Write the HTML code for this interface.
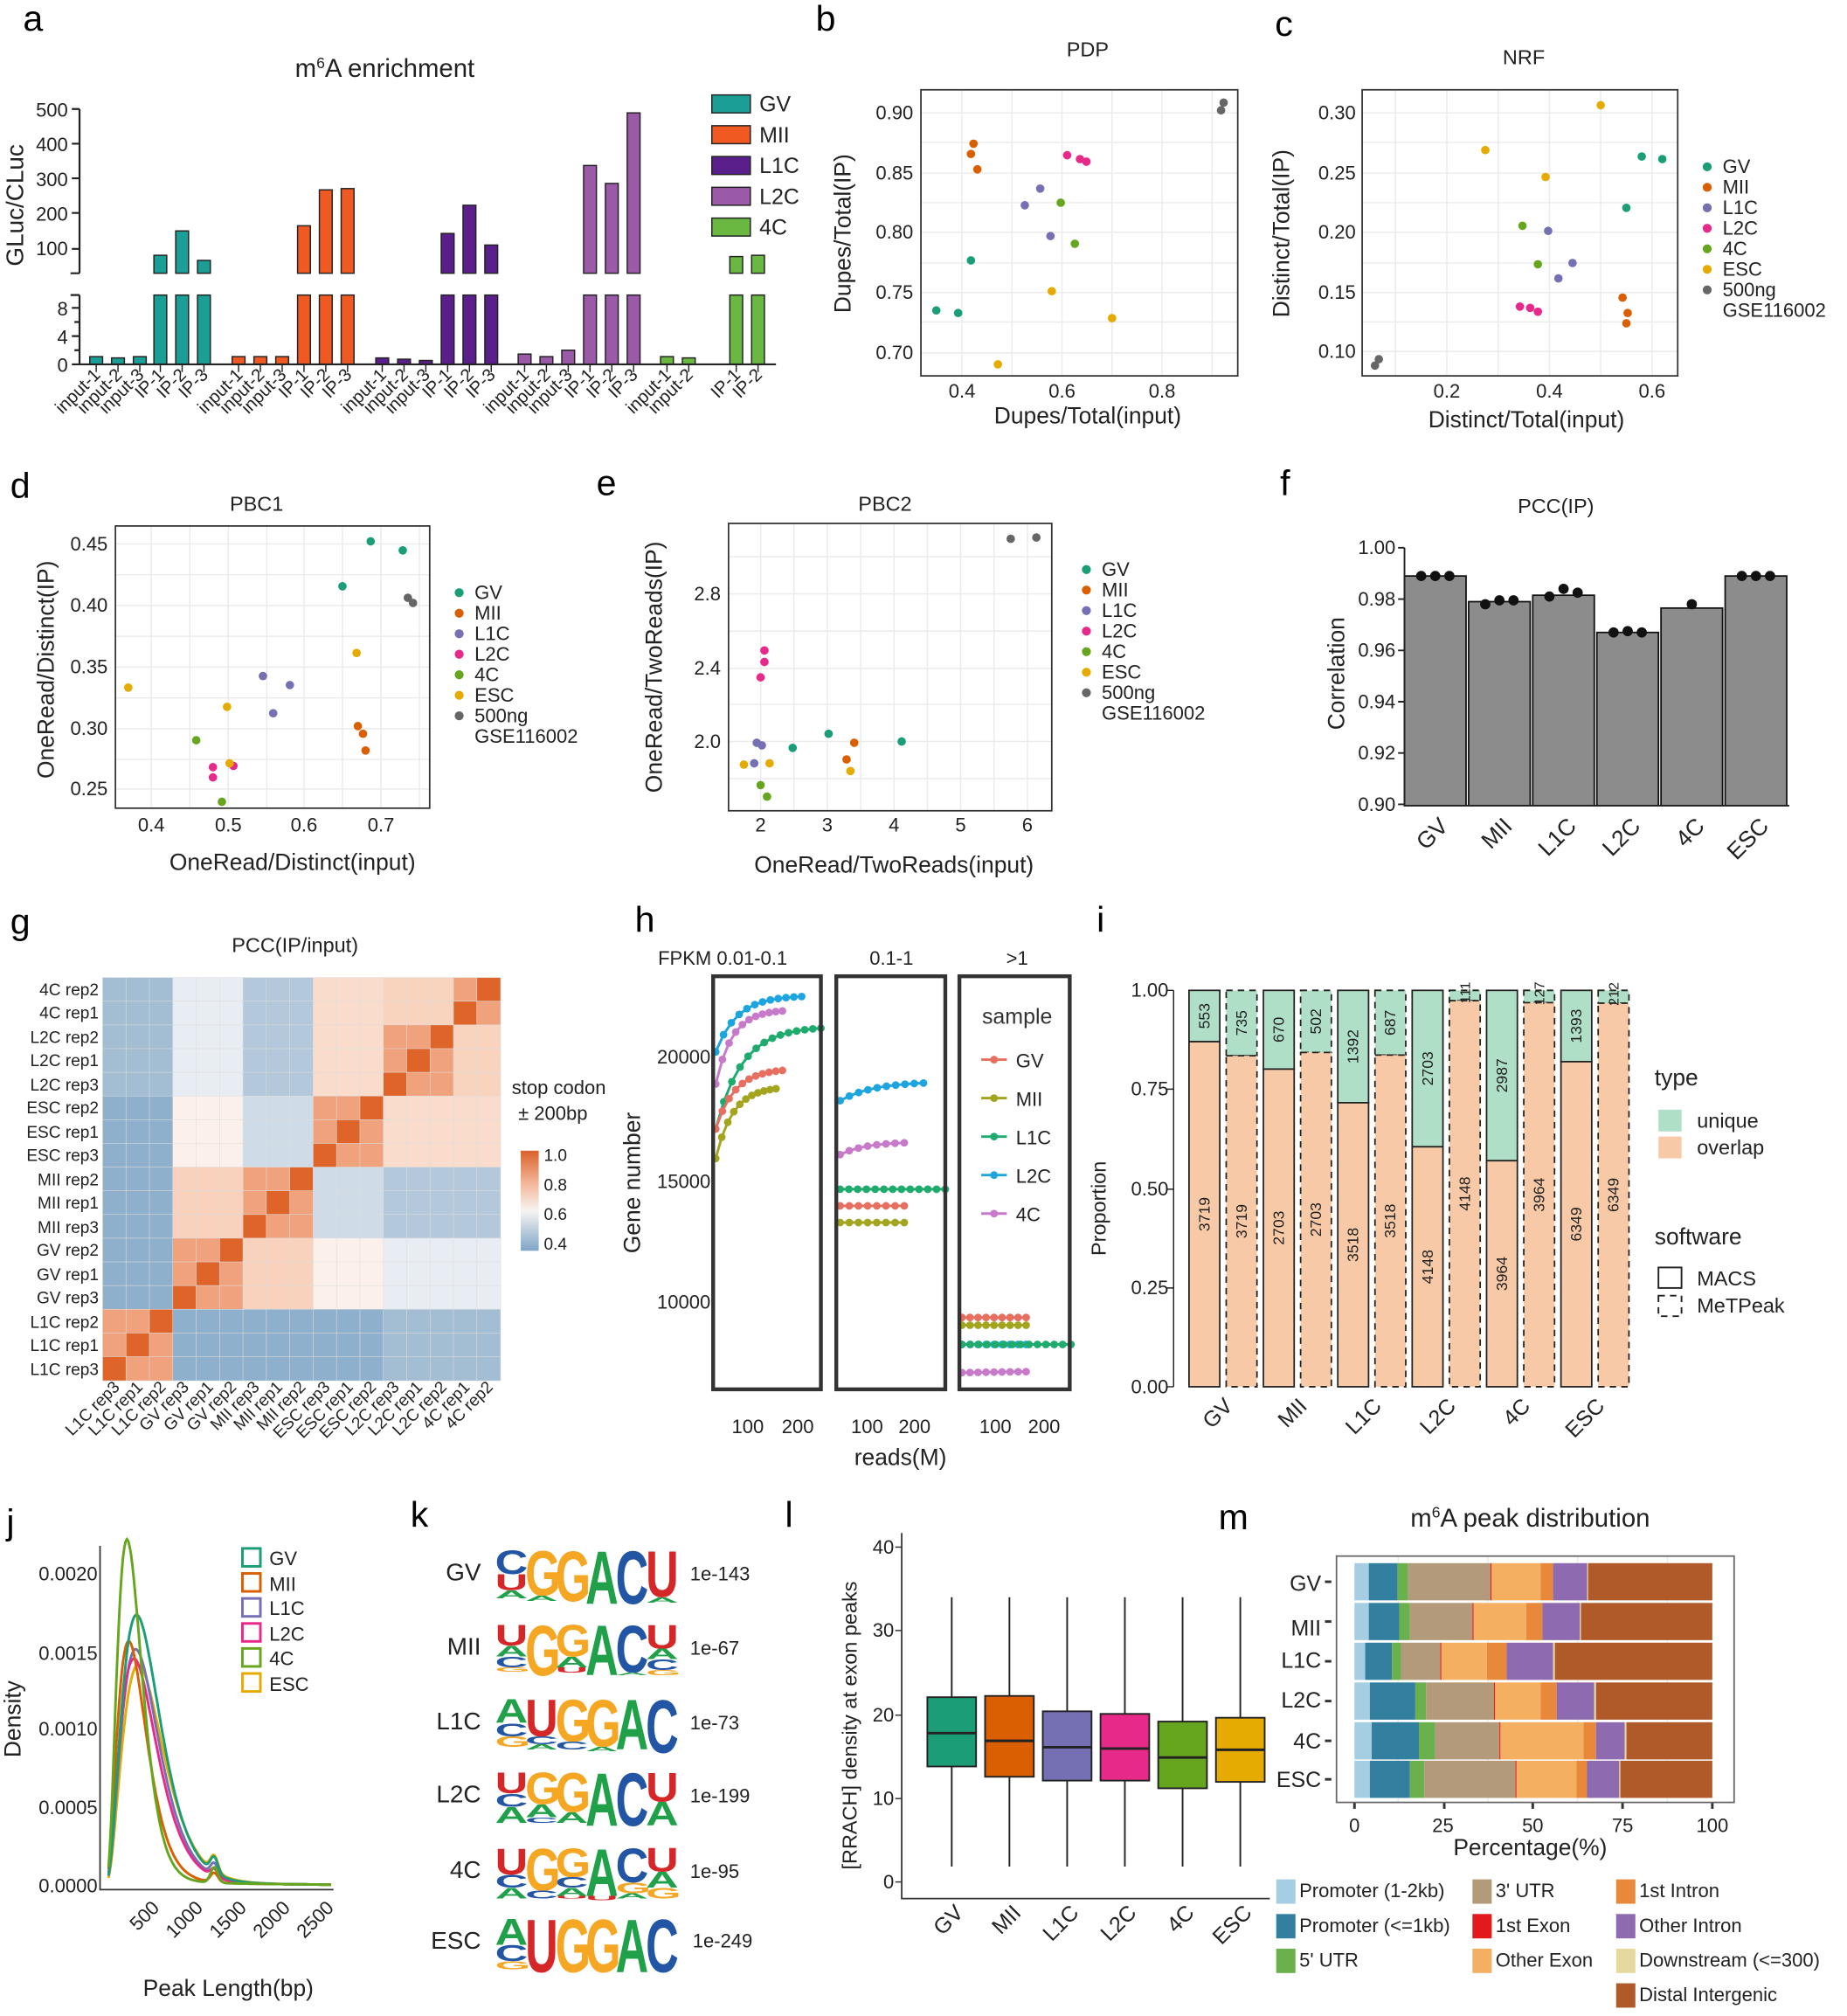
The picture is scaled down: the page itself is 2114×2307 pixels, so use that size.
<!DOCTYPE html>
<html><head><meta charset="utf-8"><style>
html,body{margin:0;padding:0;background:#fff}
svg{display:block}
text{font-family:"Liberation Sans",Arial,sans-serif;fill:#222}
.t{font-size:15px;fill:#444}
.ax{font-size:18px;fill:#222}
.ttl{font-size:16px}
.lt{font-size:28px;fill:#000}
.lg{font-size:15px}
.g{stroke:#ebebeb;stroke-width:1}
.bx{fill:none;stroke:#333;stroke-width:1.2}
</style></head><body>
<svg id="s" width="2114" height="2307" viewBox="0 0 1440 1571.5" preserveAspectRatio="none" xmlns="http://www.w3.org/2000/svg">
<rect width="1440" height="1572" fill="#fff"/>
<text class="lt" x="18" y="24">a</text><text class="lt" x="636" y="24">b</text><text class="lt" x="994" y="28">c</text>
<text class="lt" x="8" y="388">d</text><text class="lt" x="465" y="386">e</text><text class="lt" x="998" y="386">f</text>
<text class="lt" x="8" y="728">g</text><text class="lt" x="495" y="726">h</text><text class="lt" x="855" y="726">i</text>
<text class="lt" x="5" y="1196">j</text><text class="lt" x="320" y="1190">k</text><text class="lt" x="612" y="1190">l</text><text class="lt" x="950" y="1192">m</text>

<!-- ===== a ===== -->
<text x="300" y="60" text-anchor="middle" style="font-size:20px">m<tspan dy="-7" style="font-size:12px">6</tspan><tspan dy="7">A enrichment</tspan></text>
<text class="ax" transform="translate(18,160) rotate(-90)" text-anchor="middle" style="font-size:19px">GLuc/CLuc</text>
<g id="pa"></g>
<g stroke="#222" stroke-width="1.5" fill="none">
<path d="M62,85V213M55,213H62M62,230V284H605M55,230H62"/>
<path d="M56,85H62M56,112H62M56,139H62M56,166H62M56,194H62M56,240H62M56,262H62M56,284H62M58,251H62M58,273H62"/>
</g>
<g class="t" text-anchor="end" style="font-size:15px;fill:#222">
<text x="53" y="91">500</text><text x="53" y="118">400</text><text x="53" y="145">300</text><text x="53" y="172">200</text><text x="53" y="199">100</text>
<text x="53" y="246">8</text><text x="53" y="268">4</text><text x="53" y="290">0</text></g>
<g style="font-size:14px" text-anchor="end">
<text transform="translate(79,293) rotate(-45)">input-1</text><text transform="translate(96,293) rotate(-45)">input-2</text><text transform="translate(113,293) rotate(-45)">input-3</text><text transform="translate(129,293) rotate(-45)">IP-1</text><text transform="translate(146,293) rotate(-45)">IP-2</text><text transform="translate(163,293) rotate(-45)">IP-3</text>
<text transform="translate(190,293) rotate(-45)">input-1</text><text transform="translate(207,293) rotate(-45)">input-2</text><text transform="translate(224,293) rotate(-45)">input-3</text><text transform="translate(241,293) rotate(-45)">IP-1</text><text transform="translate(258,293) rotate(-45)">IP-2</text><text transform="translate(275,293) rotate(-45)">IP-3</text>
<text transform="translate(302,293) rotate(-45)">input-1</text><text transform="translate(319,293) rotate(-45)">input-2</text><text transform="translate(336,293) rotate(-45)">input-3</text><text transform="translate(353,293) rotate(-45)">IP-1</text><text transform="translate(370,293) rotate(-45)">IP-2</text><text transform="translate(387,293) rotate(-45)">IP-3</text>
<text transform="translate(413,293) rotate(-45)">input-1</text><text transform="translate(430,293) rotate(-45)">input-2</text><text transform="translate(447,293) rotate(-45)">input-3</text><text transform="translate(464,293) rotate(-45)">IP-1</text><text transform="translate(481,293) rotate(-45)">IP-2</text><text transform="translate(498,293) rotate(-45)">IP-3</text>
<text transform="translate(524,293) rotate(-45)">input-1</text><text transform="translate(541,293) rotate(-45)">input-2</text><text transform="translate(578,293) rotate(-45)">IP-1</text><text transform="translate(595,293) rotate(-45)">IP-2</text></g>
<g class="lg" style="font-size:17px">
<rect x="555" y="74" width="30" height="14" fill="#1a9e96" stroke="#222"/><text x="592" y="87">GV</text>
<rect x="555" y="98" width="30" height="14" fill="#f05a22" stroke="#222"/><text x="592" y="111">MII</text>
<rect x="555" y="122" width="30" height="14" fill="#5b1f8c" stroke="#222"/><text x="592" y="135">L1C</text>
<rect x="555" y="146" width="30" height="14" fill="#9b5aa8" stroke="#222"/><text x="592" y="159">L2C</text>
<rect x="555" y="170" width="30" height="14" fill="#6ab842" stroke="#222"/><text x="592" y="183">4C</text></g>

<!-- ===== b ===== -->
<text class="ttl" x="848" y="44" text-anchor="middle">PDP</text>
<g id="pb"></g>
<rect class="bx" x="718" y="70" width="247" height="223"/>
<g class="t" text-anchor="end"><text x="712" y="93">0.90</text><text x="712" y="140">0.85</text><text x="712" y="186">0.80</text><text x="712" y="233">0.75</text><text x="712" y="280">0.70</text></g>
<g class="t" text-anchor="middle"><text x="750" y="310">0.4</text><text x="828" y="310">0.6</text><text x="906" y="310">0.8</text></g>
<text class="ax" x="848" y="330" text-anchor="middle">Dupes/Total(input)</text>
<text class="ax" transform="translate(663,182) rotate(-90)" text-anchor="middle">Dupes/Total(IP)</text>

<!-- ===== c ===== -->
<text class="ttl" x="1188" y="50" text-anchor="middle">NRF</text>
<g id="pc"></g>
<rect class="bx" x="1062" y="70" width="246" height="223"/>
<g class="t" text-anchor="end"><text x="1057" y="93">0.30</text><text x="1057" y="140">0.25</text><text x="1057" y="186">0.20</text><text x="1057" y="233">0.15</text><text x="1057" y="279">0.10</text></g>
<g class="t" text-anchor="middle"><text x="1128" y="310">0.2</text><text x="1208" y="310">0.4</text><text x="1288" y="310">0.6</text></g>
<text class="ax" x="1190" y="333" text-anchor="middle">Distinct/Total(input)</text>
<text class="ax" transform="translate(1005,182) rotate(-90)" text-anchor="middle">Distinct/Total(IP)</text>
<g class="lg" id="lc"></g>

<!-- ===== d ===== -->
<text class="ttl" x="200" y="398" text-anchor="middle">PBC1</text>
<g id="pd"></g>
<rect class="bx" x="90" y="410" width="245" height="220"/>
<g class="t" text-anchor="end"><text x="84" y="429">0.45</text><text x="84" y="477">0.40</text><text x="84" y="525">0.35</text><text x="84" y="573">0.30</text><text x="84" y="620">0.25</text></g>
<g class="t" text-anchor="middle"><text x="118" y="648">0.4</text><text x="178" y="648">0.5</text><text x="237" y="648">0.6</text><text x="297" y="648">0.7</text></g>
<text class="ax" x="228" y="678" text-anchor="middle">OneRead/Distinct(input)</text>
<text class="ax" transform="translate(42,522) rotate(-90)" text-anchor="middle">OneRead/Distinct(IP)</text>

<!-- ===== e ===== -->
<text class="ttl" x="690" y="398" text-anchor="middle">PBC2</text>
<g id="pe"></g>
<rect class="bx" x="568" y="408" width="252" height="224"/>
<g class="t" text-anchor="end"><text x="562" y="468">2.8</text><text x="562" y="526">2.4</text><text x="562" y="583">2.0</text></g>
<g class="t" text-anchor="middle"><text x="593" y="648">2</text><text x="645" y="648">3</text><text x="697" y="648">4</text><text x="749" y="648">5</text><text x="801" y="648">6</text></g>
<text class="ax" x="697" y="680" text-anchor="middle">OneRead/TwoReads(input)</text>
<text class="ax" transform="translate(516,520) rotate(-90)" text-anchor="middle">OneRead/TwoReads(IP)</text>

<!-- ===== f ===== -->
<text class="ttl" x="1213" y="400" text-anchor="middle">PCC(IP)</text>
<g id="pf"></g>
<g class="t" text-anchor="end" style="fill:#222"><text x="1088" y="432">1.00</text><text x="1088" y="472">0.98</text><text x="1088" y="512">0.96</text><text x="1088" y="552">0.94</text><text x="1088" y="592">0.92</text><text x="1088" y="632">0.90</text></g>
<text class="ax" transform="translate(1048,525) rotate(-90)" text-anchor="middle">Correlation</text>
<g class="ax" text-anchor="end" style="font-size:18px">
<text transform="translate(1130,645) rotate(-45)">GV</text><text transform="translate(1180,645) rotate(-45)">MII</text><text transform="translate(1230,645) rotate(-45)">L1C</text><text transform="translate(1280,645) rotate(-45)">L2C</text><text transform="translate(1330,645) rotate(-45)">4C</text><text transform="translate(1380,645) rotate(-45)">ESC</text></g>

<!-- ===== g ===== -->
<text class="ttl" x="230" y="742" text-anchor="middle">PCC(IP/input)</text>
<g id="pg"></g>
<g style="font-size:13px" text-anchor="end" id="gl">
<text x="77" y="776">4C rep2</text><text x="77" y="794">4C rep1</text><text x="77" y="813">L2C rep2</text><text x="77" y="831">L2C rep1</text><text x="77" y="850">L2C rep3</text><text x="77" y="868">ESC rep2</text><text x="77" y="887">ESC rep1</text><text x="77" y="905">ESC rep3</text><text x="77" y="924">MII rep2</text><text x="77" y="942">MII rep1</text><text x="77" y="961">MII rep3</text><text x="77" y="979">GV rep2</text><text x="77" y="998">GV rep1</text><text x="77" y="1016">GV rep3</text><text x="77" y="1035">L1C rep2</text><text x="77" y="1053">L1C rep1</text><text x="77" y="1072">L1C rep3</text></g>
<g style="font-size:13px" text-anchor="end">
<text transform="translate(94,1082) rotate(-45)">L1C rep3</text><text transform="translate(112,1082) rotate(-45)">L1C rep1</text><text transform="translate(130,1082) rotate(-45)">L1C rep2</text><text transform="translate(148,1082) rotate(-45)">GV rep3</text><text transform="translate(167,1082) rotate(-45)">GV rep1</text><text transform="translate(185,1082) rotate(-45)">GV rep2</text><text transform="translate(203,1082) rotate(-45)">MII rep3</text><text transform="translate(221,1082) rotate(-45)">MII rep1</text><text transform="translate(239,1082) rotate(-45)">MII rep2</text><text transform="translate(258,1082) rotate(-45)">ESC rep3</text><text transform="translate(276,1082) rotate(-45)">ESC rep1</text><text transform="translate(294,1082) rotate(-45)">ESC rep2</text><text transform="translate(312,1082) rotate(-45)">L2C rep3</text><text transform="translate(330,1082) rotate(-45)">L2C rep1</text><text transform="translate(349,1082) rotate(-45)">L2C rep2</text><text transform="translate(367,1082) rotate(-45)">4C rep1</text><text transform="translate(385,1082) rotate(-45)">4C rep2</text></g>
<text x="399" y="853" style="font-size:15px">stop codon</text><text x="404" y="873" style="font-size:15px">± 200bp</text>
<defs><linearGradient id="cb" x1="0" y1="0" x2="0" y2="1"><stop offset="0" stop-color="#d9622a"/><stop offset=".33" stop-color="#f4b79a"/><stop offset=".6" stop-color="#f7f4f2"/><stop offset="1" stop-color="#7ea5c7"/></linearGradient></defs>
<rect x="406" y="897" width="14" height="78" fill="url(#cb)"/>
<g style="font-size:13px"><text x="424" y="905">1.0</text><text x="424" y="928">0.8</text><text x="424" y="951">0.6</text><text x="424" y="974">0.4</text></g>

<!-- ===== h ===== -->
<g style="font-size:15px"><text x="513" y="752">FPKM  0.01-0.1</text><text x="695" y="752" text-anchor="middle">0.1-1</text><text x="793" y="752" text-anchor="middle">&gt;1</text></g>
<g id="ph"></g>
<g fill="none" stroke="#333" stroke-width="3"><rect x="556" y="761" width="84" height="322"/><rect x="652" y="761" width="85" height="322"/><rect x="748" y="761" width="86" height="322"/></g>
<g class="t" text-anchor="end"><text x="554" y="829">20000</text><text x="554" y="926">15000</text><text x="554" y="1020">10000</text></g>
<g class="t" text-anchor="middle"><text x="583" y="1117">100</text><text x="622" y="1117">200</text><text x="676" y="1117">100</text><text x="713" y="1117">200</text><text x="776" y="1117">100</text><text x="814" y="1117">200</text></g>
<text class="ax" x="702" y="1142" text-anchor="middle">reads(M)</text>
<text class="ax" transform="translate(499,922) rotate(-90)" text-anchor="middle">Gene number</text>
<text x="793" y="798" text-anchor="middle" style="font-size:17px;fill:#333">sample</text>
<g class="lg" id="lh"><text x="792" y="832">GV</text><text x="792" y="862">MII</text><text x="792" y="892">L1C</text><text x="792" y="922">L2C</text><text x="792" y="952">4C</text></g>

<!-- ===== i ===== -->
<g id="pi"></g>
<g class="t" text-anchor="end"><text x="911" y="777">1.00</text><text x="911" y="854">0.75</text><text x="911" y="932">0.50</text><text x="911" y="1009">0.25</text><text x="911" y="1086">0.00</text></g>
<text class="ax" transform="translate(862,942) rotate(-90)" text-anchor="middle" style="font-size:16px">Proportion</text>
<g class="ax" text-anchor="end" style="font-size:17px;fill:#444"><text transform="translate(962,1097) rotate(-45)">GV</text><text transform="translate(1020,1097) rotate(-45)">MII</text><text transform="translate(1078,1097) rotate(-45)">L1C</text><text transform="translate(1136,1097) rotate(-45)">L2C</text><text transform="translate(1194,1097) rotate(-45)">4C</text><text transform="translate(1252,1097) rotate(-45)">ESC</text></g>
<g style="font-size:18px"><text x="1290" y="846">type</text><text x="1290" y="970">software</text></g>
<rect x="1293" y="865" width="18" height="17" fill="#b0dfc8"/><rect x="1293" y="886" width="18" height="17" fill="#f8c9a6"/>
<rect x="1293" y="988" width="18" height="16" fill="none" stroke="#222" stroke-width="1.3"/><rect x="1293" y="1010" width="18" height="16" fill="none" stroke="#222" stroke-width="1.3" stroke-dasharray="5,4"/>
<g class="lg" style="font-size:16px"><text x="1323" y="879">unique</text><text x="1323" y="900">overlap</text><text x="1323" y="1002">MACS</text><text x="1323" y="1023">MeTPeak</text></g>

<!-- ===== j ===== -->
<g id="pj"></g>
<g stroke="#333" stroke-width="1.2" fill="none"><path d="M78,1205V1473H260"/></g>
<g class="t" text-anchor="end"><text x="76" y="1232">0.0020</text><text x="76" y="1294">0.0015</text><text x="76" y="1353">0.0010</text><text x="76" y="1414">0.0005</text><text x="76" y="1475">0.0000</text></g>
<g class="t" text-anchor="end"><text transform="translate(125,1488) rotate(-45)">500</text><text transform="translate(159,1488) rotate(-45)">1000</text><text transform="translate(193,1488) rotate(-45)">1500</text><text transform="translate(227,1488) rotate(-45)">2000</text><text transform="translate(261,1488) rotate(-45)">2500</text></g>
<text class="ax" x="178" y="1556" text-anchor="middle">Peak Length(bp)</text>
<text class="ax" transform="translate(16,1340) rotate(-90)" text-anchor="middle">Density</text>
<g id="lj" class="lg"><text x="210" y="1220">GV</text><text x="210" y="1240">MII</text><text x="210" y="1259">L1C</text><text x="210" y="1279">L2C</text><text x="210" y="1298">4C</text><text x="210" y="1318">ESC</text></g>

<!-- ===== k ===== -->
<g id="pk"></g>
<g style="font-size:19px" text-anchor="end"><text x="375" y="1232">GV</text><text x="375" y="1290">MII</text><text x="375" y="1348">L1C</text><text x="375" y="1405">L2C</text><text x="375" y="1464">4C</text><text x="375" y="1519">ESC</text></g>
<g style="font-size:15px"><text x="538" y="1232">1e-143</text><text x="538" y="1290">1e-67</text><text x="538" y="1348">1e-73</text><text x="538" y="1405">1e-199</text><text x="538" y="1464">1e-95</text><text x="540" y="1518">1e-249</text></g>

<!-- ===== l ===== -->
<g id="pl"></g>
<g stroke="#333" stroke-width="1.2" fill="none"><path d="M703,1195V1480H990"/></g>
<g class="t" text-anchor="end"><text x="697" y="1211">40</text><text x="697" y="1276">30</text><text x="697" y="1342">20</text><text x="697" y="1407">10</text><text x="697" y="1472">0</text></g>
<g class="ax" text-anchor="end" style="font-size:17px"><text transform="translate(752,1492) rotate(-45)">GV</text><text transform="translate(797,1492) rotate(-45)">MII</text><text transform="translate(842,1492) rotate(-45)">L1C</text><text transform="translate(887,1492) rotate(-45)">L2C</text><text transform="translate(932,1492) rotate(-45)">4C</text><text transform="translate(977,1492) rotate(-45)">ESC</text></g>
<text class="ax" transform="translate(668,1345) rotate(-90)" text-anchor="middle" style="font-size:16px">[RRACH] density at exon peaks</text>

<!-- ===== m ===== -->
<text x="1193" y="1190" text-anchor="middle" style="font-size:20px">m<tspan dy="-7" style="font-size:12px">6</tspan><tspan dy="7">A peak distribution</tspan></text>
<g id="pm"></g>
<rect class="bx" x="1042" y="1213" width="310" height="192" style="stroke:#666"/>
<g class="ax" text-anchor="end" style="font-size:17px"><text x="1030" y="1240">GV</text><text x="1030" y="1275">MII</text><text x="1030" y="1300">L1C</text><text x="1030" y="1331">L2C</text><text x="1030" y="1363">4C</text><text x="1030" y="1393">ESC</text></g>
<g class="t" text-anchor="middle" style="fill:#222"><text x="1056" y="1428">0</text><text x="1125" y="1428">25</text><text x="1195" y="1428">50</text><text x="1265" y="1428">75</text><text x="1335" y="1428">100</text></g>
<text class="ax" x="1193" y="1446" text-anchor="middle">Percentage(%)</text>
<g id="lm" class="lg"><text x="1013" y="1479">Promoter (1-2kb)</text><text x="1013" y="1506">Promoter (&lt;=1kb)</text><text x="1013" y="1533">5' UTR</text><text x="1166" y="1479">3' UTR</text><text x="1166" y="1506">1st Exon</text><text x="1166" y="1533">Other Exon</text><text x="1278" y="1479">1st Intron</text><text x="1278" y="1506">Other Intron</text><text x="1278" y="1533">Downstream (&lt;=300)</text><text x="1278" y="1560">Distal Intergenic</text></g>
</svg>
<script>
const NS="http://www.w3.org/2000/svg";
function E(p,t,a){const e=document.createElementNS(NS,t);for(const k in a)e.setAttribute(k,a[k]);document.getElementById(p).appendChild(e);return e;}
const ca=["#1a9e96","#f05a22","#5b1f8c","#9b5aa8","#6ab842"];
const A=[[75,278],[92,279],[109,278],[125,199],[142,180],[159,203],[186,278],[203,278],[220,278],[237,176],[254,148],[271,147],[298,279],[315,280],[332,281],[349,182],[366,160],[383,191],[409,276],[426,278],[443,273],[460,129],[477,143],[494,88],[520,278],[537,279],[574,200],[591,199]];
const gi=[0,0,0,0,0,0,1,1,1,1,1,1,2,2,2,2,2,2,3,3,3,3,3,3,4,4,4,4];
A.forEach((b,i)=>{const c=ca[gi[i]];
 if(b[1]<213){E("pa","rect",{x:b[0]-5,y:b[1],width:10,height:213-b[1],fill:c,stroke:"#222","stroke-width":1});E("pa","rect",{x:b[0]-5,y:230,width:10,height:54,fill:c,stroke:"#222","stroke-width":1});}
 else E("pa","rect",{x:b[0]-5,y:b[1],width:10,height:284-b[1],fill:c,stroke:"#222","stroke-width":1});
 E("pa","line",{x1:b[0],y1:284,x2:b[0],y2:290,stroke:"#222"});});
const SC={GV:"#1b9e77",MII:"#d95f02",L1C:"#7570b3",L2C:"#e7298a","4C":"#66a61e",ESC:"#e6ab02",G:"#666666"};
function grid(id,x0,y0,w,h,xs,ys){xs.forEach(x=>E(id,"line",{x1:x,y1:y0,x2:x,y2:y0+h,class:"g"}));ys.forEach(y=>E(id,"line",{x1:x0,y1:y,x2:x0+w,y2:y,class:"g"}));}
function pts(id,d){for(const k in d)d[k].forEach(p=>E(id,"circle",{cx:p[0],cy:p[1],r:3.3,fill:SC[k]}));}
grid("pb",718,70,247,223,[750,789,828,867,906,945],[88,111,135,158,181,205,228,251,275]);
pts("pb",{GV:[[730,242],[747,244],[757,203]],MII:[[759,112],[757,120],[762,132]],L1C:[[811,147],[799,160],[819,184]],L2C:[[832,121],[842,124],[847,126]],"4C":[[827,158],[838,190]],ESC:[[820,227],[867,248],[778,284]],G:[[952,86],[954,80]]});
grid("pc",1062,70,246,223,[1088,1128,1168,1208,1248,1288],[88,111,135,158,181,205,228,251,274]);
pts("pc",{GV:[[1280,122],[1296,124],[1268,162]],MII:[[1265,232],[1269,244],[1268,252]],L1C:[[1207,180],[1215,217],[1226,205]],L2C:[[1185,239],[1193,240],[1199,243]],"4C":[[1187,176],[1199,206]],ESC:[[1158,117],[1205,138],[1248,82]],G:[[1072,285],[1075,280]]});
grid("pd",90,410,245,220,[118,148,178,208,237,267,297,327],[424,448,472,496,520,544,568,592,615]);
pts("pd",{GV:[[267,457],[289,422],[314,429]],G:[[318,466],[322,470]],MII:[[279,566],[283,572],[285,585]],L1C:[[205,527],[226,534],[213,556]],L2C:[[166,598],[166,606],[182,597]],"4C":[[153,577],[173,625]],ESC:[[100,536],[177,551],[278,509],[179,595]]});
grid("pe",568,408,252,224,[593,619,645,671,697,723,749,775,801],[434,463,492,521,549,578,607]);
pts("pe",{GV:[[618,583],[646,572],[703,578]],L2C:[[596,507],[596,516],[593,528]],MII:[[660,592],[666,579]],L1C:[[590,579],[594,581],[588,595]],"4C":[[593,612],[598,621]],ESC:[[580,596],[600,595],[663,601]],G:[[788,420],[808,419]]});
function leg(id,x,y,dy){const ks=["GV","MII","L1C","L2C","4C","ESC","G"],ls=["GV","MII","L1C","L2C","4C","ESC","500ng"];ks.forEach((k,i)=>{E(id,"circle",{cx:x,cy:y+i*dy,r:3.5,fill:SC[k]});const t=E(id,"text",{x:x+12,y:y+i*dy+5,"font-size":15});t.textContent=ls[i];});const t=E(id,"text",{x:x+12,y:y+7*dy+5,"font-size":15});t.textContent="GSE116002";}
leg("lc",1331,130,16);leg("pd",358,462,16);leg("pe",847,444,16);
const fb=[[1119,449],[1169,469],[1219,464],[1269,493],[1319,474],[1369,449]];
fb.forEach((b,i)=>{E("pf","rect",{x:b[0]-24,y:b[1],width:48,height:628-b[1],fill:"#8c8c8c",stroke:"#111","stroke-width":1.2});});
[[1108,449],[1119,449],[1130,449],[1158,471],[1169,468],[1180,468],[1208,465],[1219,459],[1230,462],[1258,493],[1269,492],[1280,493],[1319,471],[1358,449],[1369,449],[1380,449]].forEach(p=>E("pf","circle",{cx:p[0],cy:p[1],r:4,fill:"#111"}));
E("pf","path",{d:"M1095,427V628H1395M1090,427H1095M1090,467H1095M1090,507H1095M1090,547H1095M1090,587H1095M1090,627H1095",stroke:"#222",fill:"none","stroke-width":1.3});
const grp=[0,0,0,1,1,1,2,2,2,3,3,3,4,4,4,5,5];
const M=[["W","#8fb0cc","#8fb0cc","#8fb0cc","#a3bdd3","#a3bdd3"],[0,"W","#f8d2bd","#fcf1ea","#e8edf3","#e8edf3"],[0,0,"W","#cfdce8","#b3c8da","#b3c8da"],[0,0,0,"W","#f9dccb","#f9dccb"],[0,0,0,0,"W","#f8d3be"],[0,0,0,0,0,"W"]];
const cw=310/17,ch=314/17;
for(let r=0;r<17;r++)for(let c=0;c<17;c++){const rc=16-r;let col;const a=grp[rc],b=grp[c];
 if(rc==c)col="#de6429";else if(a==b)col="#f0a27c";else col=M[Math.min(a,b)][Math.max(a,b)];
 E("pg","rect",{x:80+c*cw,y:762+r*ch,width:cw+.3,height:ch+.3,fill:col,stroke:"#ddd","stroke-width":.4});}
const hc={GV:"#e76f5f",MII:"#a3a51f",L1C:"#1fab6e",L2C:"#1ea5e0","4C":"#c77ac9"};
function cur(k,x0,x1,y0,y1,n,kk){let d="";const P=[];for(let i=0;i<n;i++){const t=i/(n-1);const x=x0+(x1-x0)*t;const y=y1+(y0-y1)*Math.exp(-kk*t);P.push([x,y]);d+=(i?"L":"M")+x.toFixed(1)+","+y.toFixed(1);}E("ph","path",{d:d,stroke:hc[k],"stroke-width":2,fill:"none"});P.forEach(p=>E("ph","circle",{cx:p[0],cy:p[1],r:3,fill:hc[k]}));}
cur("L1C",558,640,880,800,14,4);cur("L2C",558,625,820,776,12,4);cur("4C",558,610,845,787,11,4);cur("GV",558,610,880,833,11,3.5);cur("MII",558,605,903,847,11,3.5);
cur("L2C",655,720,858,843,10,2.5);cur("4C",655,705,900,890,8,2.5);cur("L1C",655,737,927,932,13,0.01);cur("GV",655,705,940,940,8,.01);cur("MII",655,705,953,955,8,.01);
cur("GV",750,800,1027,1027,9,.01);cur("MII",750,800,1033,1033,9,.01);cur("L2C",750,800,1048,1047,9,.01);cur("L1C",750,835,1048,1047,14,.01);cur("4C",750,800,1070,1067,9,.3);
["GV","MII","L1C","L2C","4C"].forEach((k,i)=>{E("lh","line",{x1:765,y1:826+i*30,x2:785,y2:826+i*30,stroke:hc[k],"stroke-width":2});E("lh","circle",{cx:775,cy:826+i*30,r:3,fill:hc[k]});});
const iu=[553/4272,735/4454,670/3373,502/3205,1392/4910,687/4205,2703/6851,111/4259,2987/6951,127/4091,1393/7742,212/6561];
const iv=[[553,3719],[735,3719],[670,2703],[502,2703],[1392,3518],[687,3518],[2703,4148],[111,4148],[2987,3964],[127,3964],[1393,6349],[212,6349]];
for(let k=0;k<12;k++){const x=927+29*k,uh=iu[k]*309,st=k%2?{"stroke-dasharray":"5,4"}:{};
 E("pi","rect",Object.assign({x:x,y:772,width:24,height:uh,fill:"#b0dfc8",stroke:"#222","stroke-width":1.2},st));
 E("pi","rect",Object.assign({x:x,y:772+uh,width:24,height:309-uh,fill:"#f8c9a6",stroke:"#222","stroke-width":1.2},st));
 if(uh>22){const t=E("pi","text",{transform:`translate(${x+16},${772+uh/2}) rotate(-90)`,"text-anchor":"middle","font-size":12});t.textContent=iv[k][0];}
 else{const t=E("pi","text",{transform:`translate(${x+16},${772+uh+2}) rotate(-90)`,"font-size":11});t.textContent=iv[k][0];}
 const t=E("pi","text",{transform:`translate(${x+16},${772+uh+(309-uh)/2}) rotate(-90)`,"text-anchor":"middle","font-size":12});t.textContent=iv[k][1];}
E("pi","path",{d:"M915,772V1081M910,772H915M910,849H915M910,927H915M910,1004H915M910,1081H915",stroke:"#222",fill:"none"});
const jc={GV:"#1b9e77",MII:"#d95f02",L1C:"#7570b3",L2C:"#e7298a","4C":"#66a61e",ESC:"#e6ab02"};
function dens(k,pk,m,kk,bump){let d="";for(let bp=40;bp<=2600;bp+=15){let v=pk*Math.pow(bp/m,kk)*Math.exp(kk*(1-bp/m))+0.00004*Math.exp(-bp/1500)*Math.min(1,bp/150)+bump*Math.exp(-Math.pow((bp-1250)/60,2));const x=82+bp*0.068,y=1470-v*122000;d+=(d?"L":"M")+x.toFixed(1)+","+y.toFixed(1);}E("pj","path",{d:d,stroke:jc[k],"stroke-width":2,fill:"none"});}
dens("ESC",0.00138,380,2.6,0.0001);dens("L1C",0.00148,350,2.6,0.00008);dens("L2C",0.00142,330,2.4,0.00005);dens("MII",0.00153,270,2.6,0.00006);dens("GV",0.0017,360,2.6,0.0001);dens("4C",0.00218,250,3.0,0.0001);
["GV","MII","L1C","L2C","4C","ESC"].forEach((k,i)=>E("lj","rect",{x:189,y:1207+i*19.5,width:14,height:14,fill:"none",stroke:jc[k],"stroke-width":2}));
const LC={A:"#21a04a",C:"#2255a4",G:"#f5a623",U:"#d62728"};
const LG=[[[["C",.45],["U",.3],["A",.15]],[["G",.85],["A",.1]],[["G",.95]],[["A",1]],[["C",1]],[["U",.88],["A",.1]]],
[[["U",.4],["A",.2],["C",.2],["G",.08]],[["G",.95]],[["G",.6],["A",.2],["U",.1]],[["A",.95]],[["C",.9],["A",.05]],[["U",.45],["A",.2],["C",.2],["G",.1]]],
[[["A",.45],["C",.25],["G",.2]],[["U",.7],["C",.15],["A",.1]],[["G",.8],["C",.15]],[["G",.9],["A",.08]],[["A",.95]],[["C",1]]],
[[["U",.4],["C",.25],["A",.3]],[["G",.6],["A",.25],["C",.1]],[["G",.75],["A",.2]],[["A",1]],[["C",1]],[["U",.55],["A",.45]]],
[[["U",.5],["C",.25],["A",.2]],[["G",.8],["C",.15]],[["G",.55],["C",.2],["A",.15],["U",.05]],[["A",.9],["U",.08]],[["C",.65],["G",.2],["A",.1]],[["U",.45],["A",.3],["G",.2]]],
[[["A",.5],["C",.3],["G",.15]],[["U",1]],[["G",1]],[["G",1]],[["A",1]],[["C",1]]]];
const LY=[1208,1266,1324,1381,1440,1495];
LG.forEach((row,r)=>{row.forEach((col,c)=>{let y=LY[r];col.forEach(([L,f])=>{const h=42*f;const sy=h/28.7;const sx=23.5/26.5;const t=E("pk","text",{transform:`translate(${386+c*23.5},${y+h}) scale(${sx},${sy})`,"font-size":40,"font-weight":"bold",style:"fill:"+LC[L]});t.textContent=L;y+=h;});});});
const lb=[[742,"#1b9e77",1323,1377,1351],[787,"#d95f02",1322,1385,1357],[832,"#7570b3",1334,1388,1362],[877,"#e7298a",1336,1388,1363],[922,"#66a61e",1342,1394,1370],[967,"#e6ab02",1339,1389,1364]];
[1206,1271,1337,1402,1467].forEach(y=>E("pl","line",{x1:698,y1:y,x2:703,y2:y,stroke:"#333"}));
lb.forEach(b=>{E("pl","line",{x1:b[0],y1:1245,x2:b[0],y2:1455,stroke:"#222","stroke-width":1.3});E("pl","rect",{x:b[0]-19,y:b[2],width:38,height:b[3]-b[2],fill:b[1],stroke:"#222","stroke-width":1.3});E("pl","line",{x1:b[0]-19,y1:b[4],x2:b[0]+19,y2:b[4],stroke:"#222","stroke-width":2});});
const mc=["#a6cee3","#327fa0","#6ab04c","#b39a7a","#e31a1c","#f4b060","#e8883a","#8e6bb0","#e6d9a0","#b05a2a"];
const mv=[[4,12,15,38,38.3,52,55.5,65,65.3,100],[4,12.5,15.5,33,33.3,48,52.5,63,63.3,100],[3,10.5,13,24,24.3,37,42.5,55.5,56,100],[4.3,17,20,39,39.3,52,56.5,67,67.5,100],[4.8,18,22.5,40.5,40.8,64,67.5,75.5,76,100],[4.3,15.5,19.5,45,45.3,62,65,74,74.3,100]];
const my=[1233,1264,1295,1326,1357,1387];
[1090,1160,1230,1300].forEach(x=>E("pm","line",{x1:x,y1:1213,x2:x,y2:1405,class:"g"}));
mv.forEach((r,i)=>{let p=0;r.forEach((v,j)=>{E("pm","rect",{x:1056+p*2.79,y:my[i]-14.5,width:(v-p)*2.79,height:29,fill:mc[j]});p=v;});E("pm","line",{x1:1033,y1:my[i],x2:1038,y2:my[i],stroke:"#333","stroke-width":2});});
[1056,1126,1195,1265,1335].forEach(x=>E("pm","line",{x1:x,y1:1405,x2:x,y2:1410,stroke:"#333","stroke-width":2}));
const ml=[[995,1465],[995,1492],[995,1519],[1148,1465],[1148,1492],[1148,1519],[1260,1465],[1260,1492],[1260,1519],[1260,1546]];
ml.forEach((p,i)=>E("lm","rect",{x:p[0],y:p[1],width:15,height:19,fill:mc[i]}));
</script>
</body></html>
